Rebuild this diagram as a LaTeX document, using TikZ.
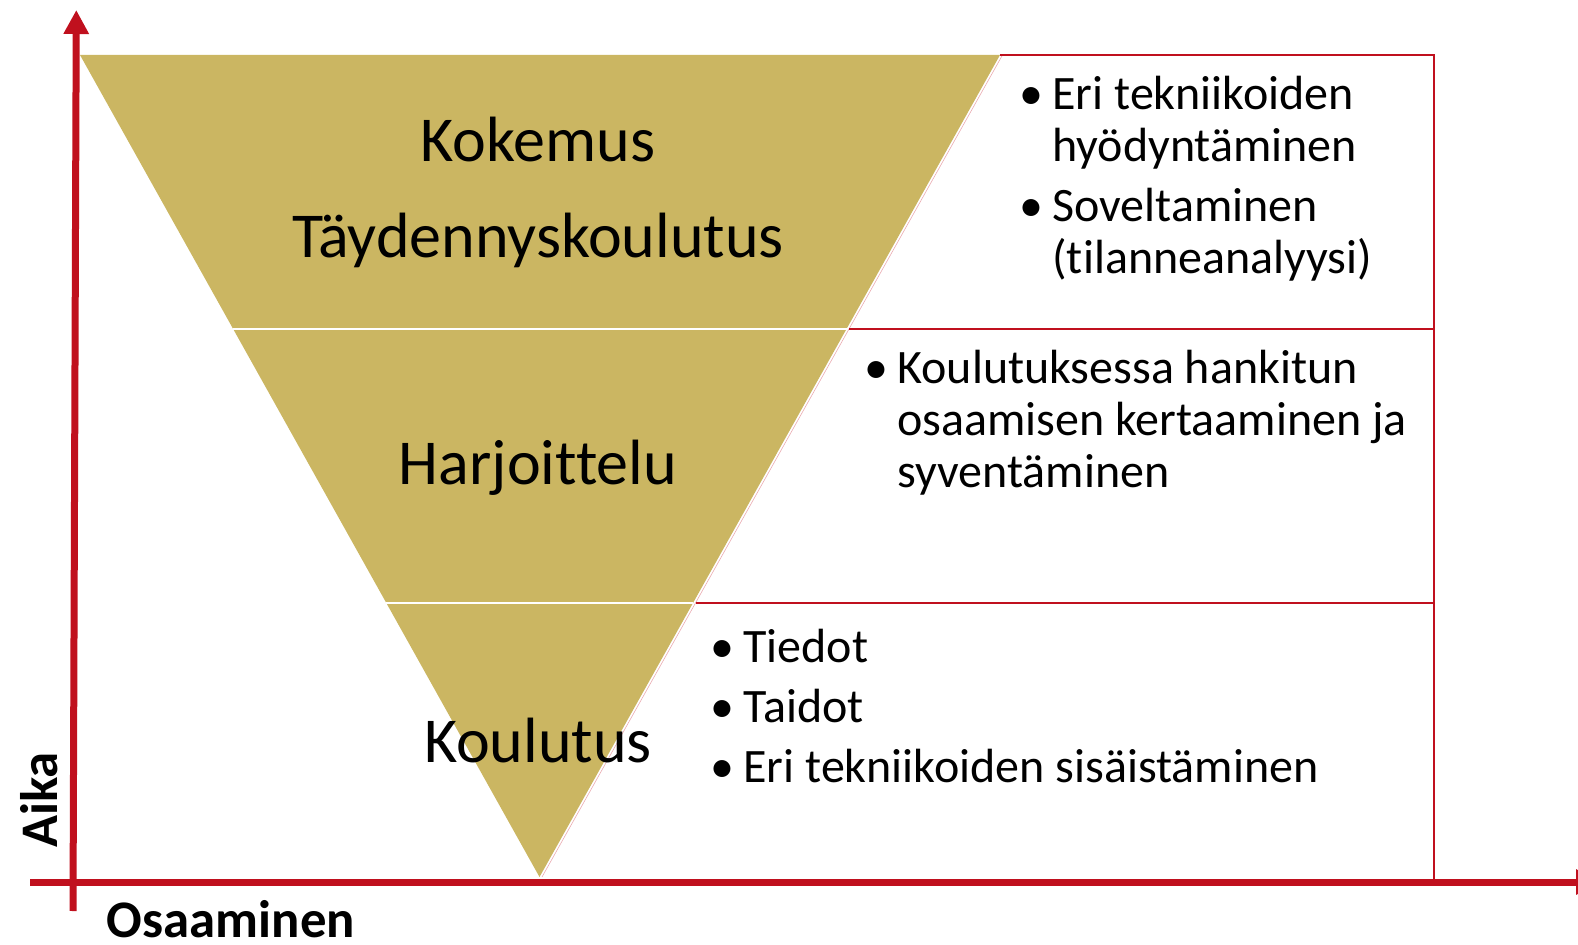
\documentclass[tikz,border=0pt]{standalone}
\usepackage{fontspec}
\setmainfont{Carlito}[Ligatures=NoCommon]
\usepackage{xcolor}
\usetikzlibrary{arrows.meta,calc}
\definecolor{kulta}{RGB}{203,182,98}
\definecolor{punainen}{RGB}{192,16,30}
\tikzset{
  akseli/.style={draw=punainen, line width=3.5pt, -{Triangle[length=12pt,width=12pt]}},
  laatikko/.style={draw=punainen, line width=1pt},
  taso/.style={font=\fontsize{32}{38}\selectfont, inner sep=0pt, anchor=base},
  lista/.style={font=\fontsize{24}{26}\selectfont, inner sep=0pt, anchor=base west},
  otsikko/.style={font=\fontsize{26.4}{30}\selectfont\bfseries, inner sep=0pt, anchor=base}
}
\newcommand{\kohta}{\makebox[16.5pt][l]{\textbullet}}

\begin{document}
\begin{tikzpicture}[x=0.5pt,y=-0.5pt]
  \useasboundingbox (0,0) rectangle (1578,945);
  % kolmio
  \coordinate (tl) at (80,55);
  \coordinate (tr) at (1000,55);
  \coordinate (apex) at (539.5,877);
  \coordinate (l1) at ($(tl)!1/3!(apex)$);
  \coordinate (l2) at ($(tl)!2/3!(apex)$);
  \coordinate (r1) at ($(tr)!1/3!(apex)$);
  \coordinate (r2) at ($(tr)!2/3!(apex)$);
  \fill[kulta] (tl) -- (tr) -- (apex) -- cycle;
  \draw[white, line width=1pt] (l1) -- (r1) (l2) -- (r2);
  % laatikot
  \coordinate (oy) at (1434,55);
  \coordinate (oa) at (1434,882);
  \draw[punainen!35, line width=0.3pt] ($(tr)+(2.5,0)$) -- ($(apex)+(2.5,0)$);
  \draw[laatikko] (tr) -- (oy) -- (oa);
  \draw[laatikko] ($(r1)+(2.5,0)$) -- (r1 -| oy);
  \draw[laatikko] ($(r2)+(2.5,0)$) -- (r2 -| oy);
  % akselit
  \coordinate (ala) at (73,911);
  \coordinate (yla) at (76.3,10);
  \coordinate (vasen) at (30,882);
  \coordinate (oikea) at (1600,882);
  \draw[akseli] (ala) -- (yla);
  \draw[akseli] (vasen) -- (oikea);
  \node[otsikko, rotate=90] (aika) at (57,800) {Aika};
  \node[otsikko] (osaaminen) at (231,937) {Osaaminen};
  % tasot
  \node[taso] (kokemus) at (538,162) {Kokemus};
  \node[taso] (tayd) at (538,258) {Täydennyskoulutus};
  \node[taso] (harj) at (538,485) {Harjoittelu};
  \node[taso] (koul) at (538,762) {Koulutus};
  % listat
  \node[lista] (lista1) at (1019,110) {\begin{tabular}[t]{@{}l@{}l@{}}
    \kohta & Eri tekniikoiden\\
           & hyödyntäminen\\[4pt]
    \kohta & Soveltaminen\\
           & (tilanneanalyysi)
  \end{tabular}};
  \node[lista] (lista2) at (864,384) {\begin{tabular}[t]{@{}l@{}l@{}}
    \kohta & Koulutuksessa hankitun\\
           & osaamisen kertaaminen ja\\
           & syventäminen
  \end{tabular}};
  \node[lista] (lista3) at (710,662) {\begin{tabular}[t]{@{}l@{}l@{}}
    \kohta & Tiedot\\[4pt]
    \kohta & Taidot\\[4pt]
    \kohta & Eri tekniikoiden sisäistäminen
  \end{tabular}};
\end{tikzpicture}
\end{document}
